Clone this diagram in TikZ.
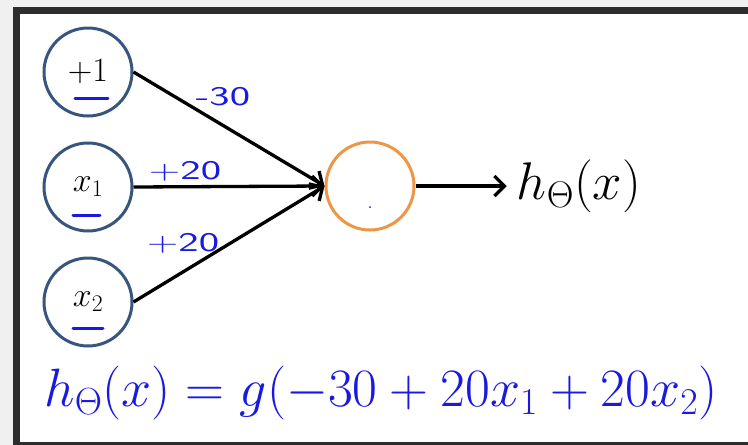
\RequirePackage{fix-cm}
\documentclass[tikz,border=0pt]{standalone}
\usepackage{amsmath, amssymb}
\usepackage{tikz}
\usetikzlibrary{arrows.meta}
\usepackage{xcolor}
\definecolor{handblue}{RGB}{25, 25, 225}
\definecolor{unitblue}{RGB}{55, 85, 125}
\definecolor{unitorange}{RGB}{238, 150, 70}
\definecolor{framegray}{RGB}{45, 45, 45}

\begin{document}
\begin{tikzpicture}[x=1pt, y=-1pt, >={Straight Barb[length=10pt, width=20pt]},
  unit/.style={circle, draw=unitblue, line width=3pt, minimum size=88pt, inner sep=0pt,
    font=\fontsize{34}{40}\selectfont},
  weight/.style={text=handblue, font=\sffamily\fontsize{27}{30}\selectfont, xscale=1.6},
  penline/.style={handblue, line width=3pt, line cap=round},
  link/.style={->, line width=3.3pt}]
  \useasboundingbox (0,0) rectangle (748,445);

  % Screen frame
  \fill[black!6] (0,0) rectangle (748,445);
  \fill[framegray] (13,7) rectangle (748,445);
  \fill[white] (20,14) rectangle (748,442);

  % Input units
  \node[unit] (bias) at (88,72) {$+1$};
  \node[unit] (xone) at (88,187) {$x_1$};
  \node[unit] (xtwo) at (88,302) {$x_2$};

  % Underlines
  \draw[penline] ([xshift=-13pt, yshift=-26pt]bias.center) -- ++(33,0);
  \draw[penline] ([xshift=-15pt, yshift=-28pt]xone.center) -- ++(27,0);
  \draw[penline] ([xshift=-15pt, yshift=-26pt]xtwo.center) -- ++(30,0);

  % Output unit
  \node[unit, draw=unitorange] (sum) at (370,186) {};
  \fill[handblue] (370,207) circle (1pt);
  \node[font=\fontsize{53}{58}\selectfont, inner sep=10pt] (hyp) at (579,186) {$h_\Theta(x)$};

  % Weights
  \draw[link] (bias.east) -- (sum.west);
  \draw[link] (xone.east) -- (sum.west);
  \draw[link] (xtwo.east) -- (sum.west);
  \draw[link] (sum.east) -- (hyp.west);

  \node[weight] (wbias) at (223,97) {-30};
  \node[weight] (wone) at (185,171) {+20};
  \node[weight] (wtwo) at (183,243) {+20};

  % Hypothesis
  \node[text=handblue, font=\fontsize{54}{60}\selectfont] (eqn) at (381,393)
    {$h_\Theta(x)=g(-30+20x_1+20x_2)$};
\end{tikzpicture}
\end{document}
